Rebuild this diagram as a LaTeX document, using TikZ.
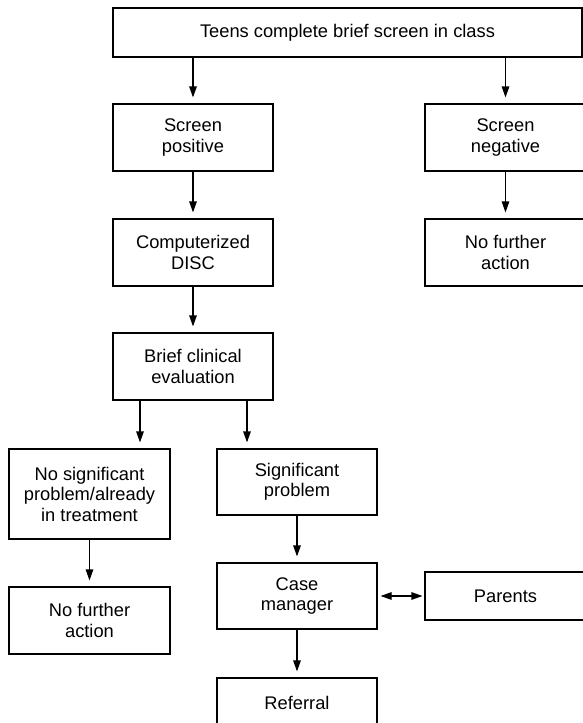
\documentclass[tikz,border=0pt]{standalone}
\usepackage{fontspec}
\setmainfont{Liberation Sans}
\usetikzlibrary{arrows.meta}
\begin{document}
\begin{tikzpicture}[x=1pt,y=-1pt]
	\tikzstyle{stage}=[rectangle,draw=black,line width=1.1pt,align=center,inner sep=0pt,minimum width=160pt,minimum height=67pt,font=\fontsize{18.3}{20.5}\selectfont]
	\tikzstyle{flow}=[draw,line width=1.1pt,-{Triangle[length=11pt,width=7.5pt]},shorten >=6pt]
	\useasboundingbox (0,0) rectangle (583,723);
	\begin{scope}
		\node [stage,minimum width=469pt,minimum height=49pt] (s0) at (347.5,32.5) {Teens complete brief screen in class};
		\node [stage] (s1) at (193,137.5) {Screen\\positive};
		\node [stage,minimum width=161pt] (s2) at (505.5,137.5) {Screen\\negative};
		\node [stage] (s3) at (193,252.5) {Computerized\\DISC};
		\node [stage,minimum width=161pt] (s4) at (505.5,252.5) {No further\\action};
		\node [stage] (s5) at (193,366.5) {Brief clinical\\evaluation};
		\node [stage,minimum width=161pt,minimum height=90pt] (s6) at (89.5,494) {No significant\\problem/already\\in treatment};
		\node [stage,minimum height=66pt] (s7) at (297,482) {Significant\\problem};
		\node [stage,minimum width=161pt] (s8) at (89.5,620.5) {No further\\action};
		\node [stage,minimum height=66pt] (s9) at (297,596) {Case\\manager};
		\node [stage,minimum width=161pt,minimum height=48pt] (s10) at (505.5,596) {Parents};
		\node [stage,minimum height=50pt] (s11) at (297,703) {Referral};
		\path[flow] (s0.south -| s1.north) -- (s1.north);
		\path[flow] (s0.south -| s2.north) -- (s2.north);
		\path[flow] (s1) -- (s3);
		\path[flow] (s2) -- (s4);
		\path[flow] (s3) -- (s5);
		\path[flow] ([xshift=-53pt]s5.south) -- ([xshift=-53pt]s5.south |- s6.north);
		\path[flow] ([xshift=54pt]s5.south) -- ([xshift=54pt]s5.south |- s7.north);
		\path[flow] (s6) -- (s8);
		\path[flow] (s7) -- (s9);
		\path[flow] (s9) -- (s11);
		\path[flow,{Triangle[length=11pt,width=7.5pt]}-{Triangle[length=11pt,width=7.5pt]},shorten <=3pt,shorten >=2pt] (s9.east) -- (s10.west);
	\end{scope}
\end{tikzpicture}
\end{document}
